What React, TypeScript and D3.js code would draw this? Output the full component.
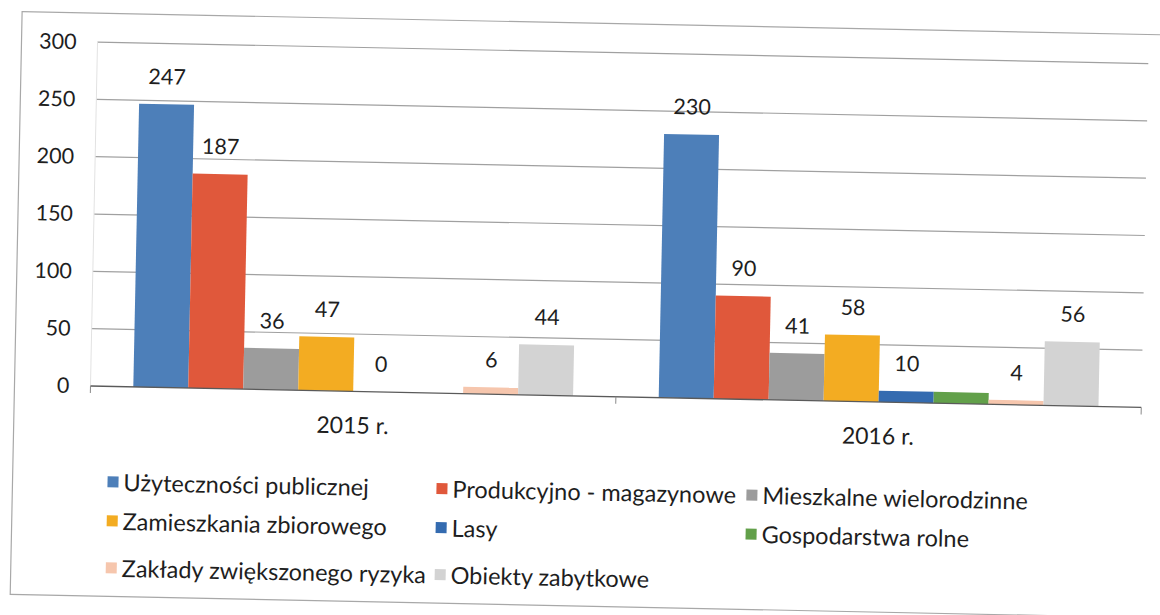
import React from 'react';
import * as d3 from 'd3';

const categories = ['2015 r.', '2016 r.'];
const seriesNames = [
  'Użyteczności publicznej',
  'Produkcyjno - magazynowe',
  'Mieszkalne wielorodzinne',
  'Zamieszkania zbiorowego',
  'Lasy',
  'Gospodarstwa rolne',
  'Zakłady zwiększonego ryzyka',
  'Obiekty zabytkowe',
];
const values2015 = [247, 187, 36, 47, 0, 0, 6, 44];
const values2016 = [230, 90, 41, 58, 10, 10, 4, 56];
const seriesColors = ['#4d7fb9', '#e0583b', '#9c9c9c', '#f3ac22', '#346bb0', '#62a04a', '#f6c6ad', '#d3d3d3'];
// the picture shows no labels for "Gospodarstwa rolne"
const showLabel = [true, true, true, true, true, false, true, true];
const yTicks = [0, 50, 100, 150, 200, 250, 300];

const W = 1160;
const H = 615;
const FONT = 'Lato, "Open Sans", sans-serif';
// scanned page is slightly tilted
const TILT = 1.17;

const App = () => {
  const valuesByCat = [values2015, values2016];

  const x0 = d3.scaleBand<string>().domain(categories).range([94, 1145]);
  const groupW = x0.bandwidth() * 0.837;
  const x1 = d3.scaleBand<string>().domain(seriesNames).range([0, groupW]);
  const y = d3.scaleLinear().domain([0, 300]).range([386, 42]);
  const groupOffset = (x0.bandwidth() - groupW) / 2;

  const legendCols = [113, 442, 752];
  const legendRows = [482, 521, 568];

  return (
    <svg width={W} height={H} style={{ display: 'block', position: 'absolute', left: 0, top: 0, background: '#fff' }}>
      <rect width={W} height={H} fill="#fff" />
      <g transform={`rotate(${TILT} 92 214)`} fontFamily={FONT} fill="#1e1e1e">
        <rect x={18} y={13} width={1200} height={583} fill="none" stroke="#a8a8a8" strokeWidth={1.2} />

        {yTicks.filter(t => t > 0).map(t => (
          <line key={t} x1={x0.range()[0]} x2={x0.range()[1]} y1={y(t)} y2={y(t)} stroke="#a0a0a0" strokeWidth={1.2} />
        ))}
        <line x1={x0.range()[0]} x2={x0.range()[0]} y1={y(300)} y2={y(0)} stroke="#e2e2e2" />

        {yTicks.map(t => (
          <text key={t} x={73} y={y(t)} dy="0.35em" textAnchor="end" fontSize={21.5}>{t}</text>
        ))}

        {categories.map((c, ci) => (
          <g key={c} transform={`translate(${x0(c)! + groupOffset},0)`}>
            {seriesNames.map((s, si) => {
              const v = valuesByCat[ci][si];
              return (
                <rect key={s} x={x1(s)} y={y(v)} width={x1.bandwidth()} height={y(0) - y(v)} fill={seriesColors[si]} />
              );
            })}
            {seriesNames.map((s, si) => {
              if (!showLabel[si]) return null;
              const v = valuesByCat[ci][si];
              return (
                <text key={s} x={x1(s)! + x1.bandwidth() / 2} y={y(v) - 20} textAnchor="middle" fontSize={21.5}>{v}</text>
              );
            })}
          </g>
        ))}

        <line x1={x0.range()[0]} x2={x0.range()[1]} y1={y(0)} y2={y(0)} stroke="#5a5a5a" strokeWidth={1.3} />
        {[...categories.map(c => x0(c)!), x0.range()[1]].map((tx, i) => (
          <line key={i} x1={tx} x2={tx} y1={y(0)} y2={y(0) + 7} stroke="#8a8a8a" />
        ))}

        {categories.map(c => (
          <text key={c} x={x0(c)! + x0.bandwidth() / 2} y={y(0) + 34} dy="0.35em" textAnchor="middle" fontSize={23}>{c}</text>
        ))}

        {seriesNames.map((s, i) => {
          const lx = legendCols[i % 3];
          const ly = legendRows[Math.floor(i / 3)];
          return (
            <g key={s} transform={`translate(${lx},${ly})`}>
              <rect x={0} y={-6} width={11} height={11} fill={seriesColors[i]} />
              <text x={16} y={0} dy="0.35em" fontSize={23.5}>{s}</text>
            </g>
          );
        })}
      </g>
    </svg>
  );
};

export default App;
